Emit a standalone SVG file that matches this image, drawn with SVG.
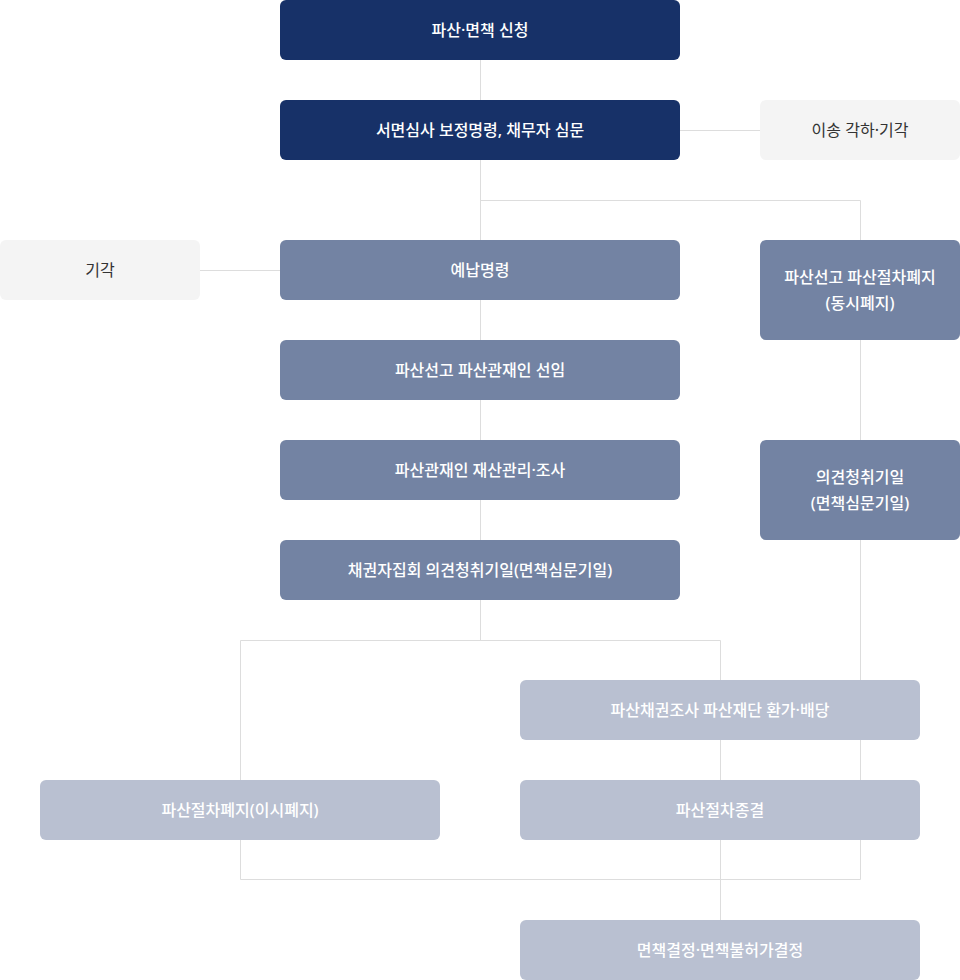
<svg xmlns="http://www.w3.org/2000/svg" width="960" height="980" viewBox="0 0 960 980">
<style>
.dark{fill:#173168}
.mid{fill:#7383a3}
.light{fill:#b9c0d1}
.grey{fill:#f4f4f4}
text{font-family:"Noto Sans","Noto Sans CJK KR",sans-serif;font-size:16px;text-anchor:middle;dominant-baseline:central;letter-spacing:0}
.w{fill:#ffffff;font-weight:500}
.k{fill:#333333;font-weight:400}
.conn{fill:none;stroke:#dddddd;stroke-width:1}
</style>
<rect width="960" height="980" fill="#ffffff"/>
<g id="connectors" class="conn">
<path d="M480.5 60V240"/>
<path d="M680 130.5H760"/>
<path d="M480.5 200.5H860.5V240"/>
<path d="M200 270.5H280"/>
<path d="M480.5 300V640.5"/>
<path d="M240.5 780V640.5H720.5V680"/>
<path d="M860.5 340V440"/>
<path d="M860.5 540V879.5H240.5V840"/>
<path d="M720.5 740V780"/>
<path d="M720.5 840V920"/>
</g>
<g id="n1"><rect class="dark" x="280" y="0" width="400" height="60" rx="6"/><text class="w" x="480" y="30">파산·면책 신청</text></g>
<g id="n2"><rect class="dark" x="280" y="100" width="400" height="60" rx="6"/><text class="w" x="480" y="130">서면심사 보정명령, 채무자 심문</text></g>
<g id="n3"><rect class="grey" x="760" y="100" width="200" height="60" rx="6"/><text class="k" x="860" y="130">이송 각하·기각</text></g>
<g id="n4"><rect class="grey" x="0" y="240" width="200" height="60" rx="6"/><text class="k" x="100" y="270">기각</text></g>
<g id="n5"><rect class="mid" x="280" y="240" width="400" height="60" rx="6"/><text class="w" x="480" y="270">예납명령</text></g>
<g id="n6"><rect class="mid" x="760" y="240" width="200" height="100" rx="6"/><text class="w" x="860" y="277">파산선고 파산절차폐지</text><text class="w" x="860" y="303">(동시폐지)</text></g>
<g id="n7"><rect class="mid" x="280" y="340" width="400" height="60" rx="6"/><text class="w" x="480" y="370">파산선고 파산관재인 선임</text></g>
<g id="n8"><rect class="mid" x="280" y="440" width="400" height="60" rx="6"/><text class="w" x="480" y="470">파산관재인 재산관리·조사</text></g>
<g id="n9"><rect class="mid" x="280" y="540" width="400" height="60" rx="6"/><text class="w" x="480" y="570">채권자집회 의견청취기일(면책심문기일)</text></g>
<g id="n10"><rect class="mid" x="760" y="440" width="200" height="100" rx="6"/><text class="w" x="860" y="477">의견청취기일</text><text class="w" x="860" y="503">(면책심문기일)</text></g>
<g id="n11"><rect class="light" x="520" y="680" width="400" height="60" rx="6"/><text class="w" x="720" y="710">파산채권조사 파산재단 환가·배당</text></g>
<g id="n12"><rect class="light" x="40" y="780" width="400" height="60" rx="6"/><text class="w" x="240" y="810">파산절차폐지(이시폐지)</text></g>
<g id="n13"><rect class="light" x="520" y="780" width="400" height="60" rx="6"/><text class="w" x="720" y="810">파산절차종결</text></g>
<g id="n14"><rect class="light" x="520" y="920" width="400" height="60" rx="6"/><text class="w" x="720" y="950">면책결정·면책불허가결정</text></g>
</svg>
